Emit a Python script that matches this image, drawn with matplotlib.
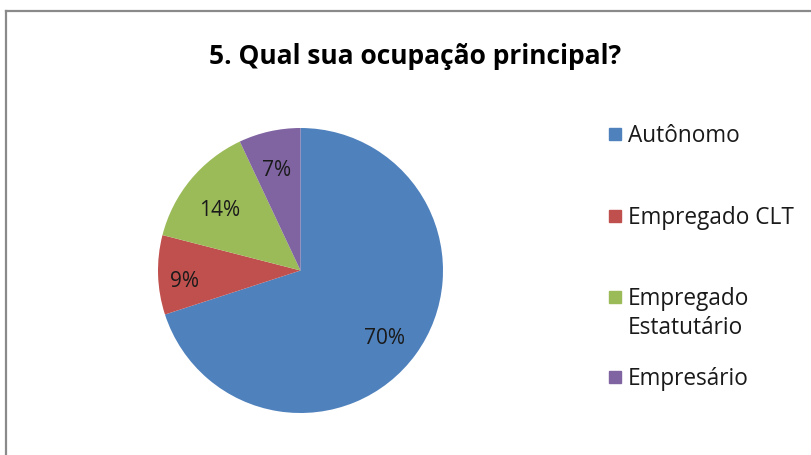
import numpy as np
import matplotlib
matplotlib.use('Agg')
from matplotlib import pyplot as plt
from matplotlib.patches import Rectangle
from matplotlib.lines import Line2D

# chart data
categories = ['Autônomo', 'Empregado CLT', 'Empregado\nEstatutário', 'Empresário']
values = [70, 9, 14, 7]
colors = ['#4F81BD', '#C0504D', '#9BBB59', '#8064A2']
label_dist = [0.727, 0.813, 0.74, 0.775]

plt.rcParams['font.family'] = ['Open Sans', 'DejaVu Sans']

W, H = 811, 456
fig = plt.figure(figsize=(W / 100, H / 100), dpi=100)

# outer chart frame (top and left edges visible)
fig.add_artist(Line2D([6 / W, 1.0], [1 - 12 / H, 1 - 12 / H], color='#8a8a8a', lw=1.6))
fig.add_artist(Line2D([6 / W, 6 / W], [0, 1 - 12 / H], color='#8a8a8a', lw=1.6))

fig.text(415 / W, 1 - 57 / H, '5. Qual sua ocupação principal?', ha='center', va='center',
         fontsize=19, fontweight='bold', color='black')

cx, cy, r = 300.5, 271.5, 142.5
ax = fig.add_axes([(cx - r) / W, (H - cy - r) / H, 2 * r / W, 2 * r / H])
wedges, _ = ax.pie(values, colors=colors, startangle=90, counterclock=False, radius=1,
                   wedgeprops=dict(linewidth=0))
for w, v, d in zip(wedges, values, label_dist):
    ang = np.deg2rad((w.theta1 + w.theta2) / 2)
    ax.text(d * np.cos(ang), d * np.sin(ang) - 0.045, f'{v}%', ha='center', va='center',
            fontsize=15, color='#1a1a1a')
ax.set_xlim(-1, 1)
ax.set_ylim(-1, 1)
ax.set_aspect('equal')
ax.axis('off')

# legend, placed like the Excel one
leg_y = [135, 217, 298, 378]
for lab, col, y in zip(categories, colors, leg_y):
    fig.add_artist(Rectangle((609 / W, 1 - (y + 6) / H), 12 / W, 12 / H, color=col))
    fig.text(628 / W, 1 - (y - 11) / H, lab, ha='left', va='top', fontsize=16.3,
             color='#1a1a1a', linespacing=1.25)

fig.savefig('out.png', dpi=100)
